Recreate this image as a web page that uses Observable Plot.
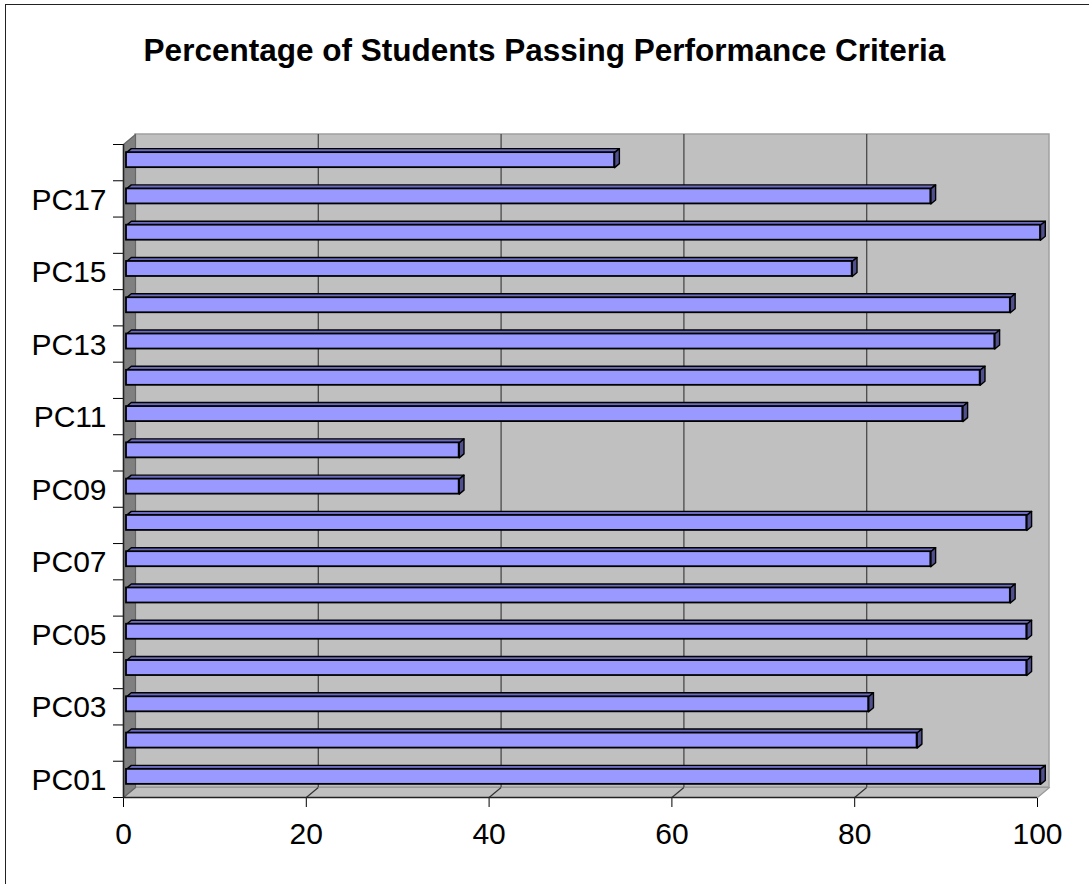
<!DOCTYPE html>
<html><head><meta charset="utf-8">
<script src="https://cdn.jsdelivr.net/npm/d3@7"></script>
<script src="https://cdn.jsdelivr.net/npm/@observablehq/plot@0.6"></script>
<style>
body{margin:0;background:#fff;}
#wrap{position:relative;width:1089px;height:884px;overflow:hidden;background:#fff;font-family:Arial,"Liberation Sans",sans-serif;}
#frame{position:absolute;left:5px;top:4px;width:1200px;height:1000px;border-left:1.5px solid #222;border-top:1.5px solid #222;pointer-events:none;}
#title{position:absolute;left:0;top:35px;width:1089px;text-align:center;font-weight:bold;font-size:31.5px;line-height:31.5px;color:#000;white-space:nowrap;}
</style></head><body>
<div id="wrap"><div id="chart"></div><div id="frame"></div><div id="title">Percentage of Students Passing Performance Criteria</div></div>
<script>
const categories = ["PC01","PC02","PC03","PC04","PC05","PC06","PC07","PC08","PC09","PC10","PC11","PC12","PC13","PC14","PC15","PC16","PC17","PC18"];
const values = [100, 86.5, 81.2, 98.5, 98.5, 96.7, 88, 98.5, 36.4, 36.4, 91.5, 93.4, 95, 96.7, 79.4, 100, 88, 53.4];
const labeledCategories = ["PC01","PC03","PC05","PC07","PC09","PC11","PC13","PC15","PC17"];
const xTicks = [0, 20, 40, 60, 80, 100];
const gridValues = [20, 40, 60, 80];

const W = 1089, H = 884, mL = 123, mR = 52, mT = 144, mB = 87;
const n = categories.length;
const pxPerX = (W - mL - mR) / 100, pxPerY = (H - mT - mB) / n;
const DEPTH_X = 12, DEPTH_Y = 10;          // back wall offset in px
const off = t => [t * DEPTH_X / pxPerX, t * DEPTH_Y / pxPerY]; // in data units
const T0 = 0.25, T1 = 0.65, PAD = 0.293;

const bars = categories.map((c, i) => ({c, v: values[i], y1: i + PAD, y2: i + 1 - PAD}));
const pt = (x, y, t, id) => { const [ox, oy] = off(t); return {x: x + ox, y: y + oy, id}; };

const topFaces = bars.flatMap(b => [pt(0,b.y2,T0,b.c), pt(b.v,b.y2,T0,b.c), pt(b.v,b.y2,T1,b.c), pt(0,b.y2,T1,b.c)]);
const sideFaces = bars.flatMap(b => [pt(b.v,b.y1,T0,b.c), pt(b.v,b.y2,T0,b.c), pt(b.v,b.y2,T1,b.c), pt(b.v,b.y1,T1,b.c)]);
const leftWall = [pt(0,0,0,"w"), pt(0,n,0,"w"), pt(0,n,1,"w"), pt(0,0,1,"w")];
const floor = [pt(0,0,0,"f"), pt(100,0,0,"f"), pt(100,0,1,"f"), pt(0,0,1,"f")];
const [bx, by] = off(1);
const floorGrid = gridValues.map(v => ({x1: v + bx, y1: by, x2: v, y2: 0}));

const chart = Plot.plot({
  width: W, height: H,
  marginLeft: mL, marginRight: mR, marginTop: mT, marginBottom: mB,
  style: {fontSize: "30px", fontFamily: "Arial, 'Liberation Sans', sans-serif", background: "transparent", overflow: "visible"},
  x: {domain: [0, 100], ticks: xTicks, tickSize: 10, tickPadding: 15, label: null},
  y: {domain: [0, n], ticks: d3.range(0, n + 1), tickSize: 10, tickFormat: () => "", label: null},
  marks: [
    Plot.rect([{x1: 0, x2: 100, y1: 0, y2: n}], {x1: "x1", x2: "x2", y1: "y1", y2: "y2", dx: DEPTH_X, dy: -DEPTH_Y, fill: "#c0c0c0", stroke: "#a0a0a0", strokeWidth: 1.5}),
    Plot.line(floor, {x: "x", y: "y", z: "id", curve: "linear-closed", fill: "#c0c0c0", stroke: "#999", strokeWidth: 1.2}),
    Plot.line(leftWall, {x: "x", y: "y", z: "id", curve: "linear-closed", fill: "#808080", stroke: "#666", strokeWidth: 1.2}),
    Plot.ruleX(gridValues, {y1: 0, y2: n, dx: DEPTH_X, dy: -DEPTH_Y, stroke: "#4a4a4a", strokeWidth: 1.3}),
    Plot.link(floorGrid, {x1: "x1", y1: "y1", x2: "x2", y2: "y2", stroke: "#333", strokeWidth: 1.2}),
    Plot.ruleY([0], {x1: 0, x2: 100, stroke: "#222", strokeWidth: 1.5}),
    Plot.ruleX([0], {y1: 0, y2: n, stroke: "#222", strokeWidth: 1.5}),
    Plot.line(topFaces, {x: "x", y: "y", z: "id", curve: "linear-closed", fill: "#6b6bbf", stroke: "#000", strokeWidth: 1.4}),
    Plot.line(sideFaces, {x: "x", y: "y", z: "id", curve: "linear-closed", fill: "#50508f", stroke: "#000", strokeWidth: 1.4}),
    Plot.rect(bars, {x1: 0, x2: "v", y1: "y1", y2: "y2", dx: T0 * DEPTH_X, dy: -T0 * DEPTH_Y, fill: "#9999ff", stroke: "#000", strokeWidth: 1.8}),
    Plot.text(labeledCategories, {x: 0, y: d => categories.indexOf(d) + 0.5, text: d => d, textAnchor: "end", dx: -17, dy: 1, fontSize: 30, fill: "#000"})
  ]
});
document.getElementById("chart").appendChild(chart);
</script>
</body></html>
